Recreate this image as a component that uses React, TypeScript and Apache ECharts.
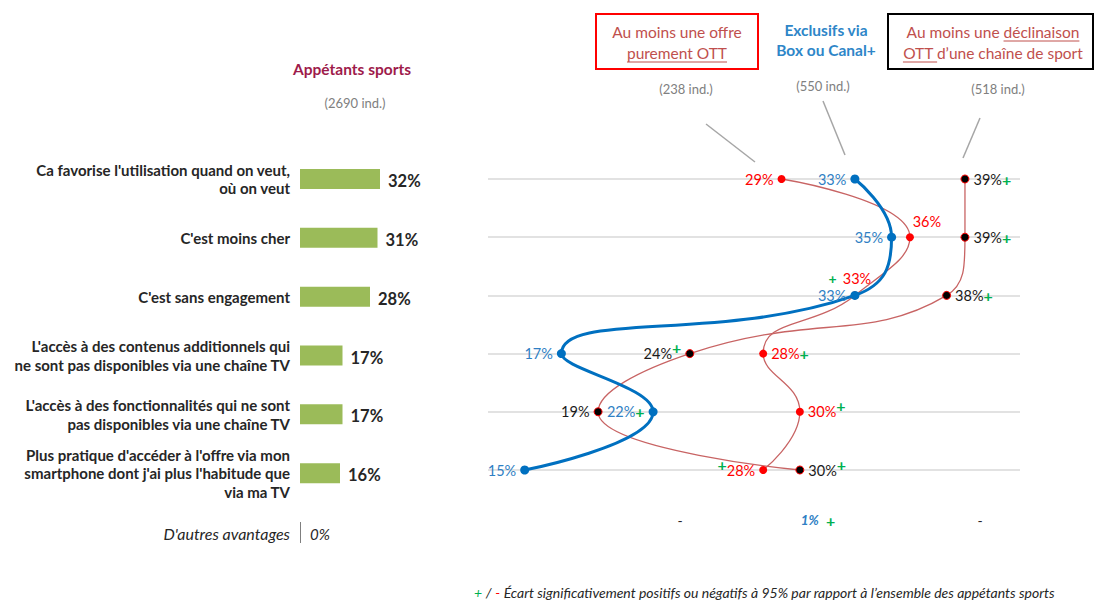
import React, { useEffect, useRef } from "react";
import * as echarts from "echarts";

// ---------- DATA ----------
const categories = [
  "Ca favorise l'utilisation quand on veut,\noù on veut",
  "C'est moins cher",
  "C'est sans engagement",
  "L'accès à des contenus additionnels qui\nne sont pas disponibles via une chaîne TV",
  "L'accès à des fonctionnalités qui ne sont\npas disponibles via une chaîne TV",
  "Plus pratique d'accéder à l'offre via mon\nsmartphone dont j'ai plus l'habitude que\nvia ma TV",
];
const allSports = [32, 31, 28, 17, 17, 16];
const ottPure = [29, 36, 33, 28, 30, 28];
const exclusive = [33, 35, 33, 17, 22, 15];
const ottChannel = [39, 39, 38, 24, 19, 30];
const ottPureSig = ["", "", "+", "+", "+", "+"];
const exclusiveSig = ["", "", "", "", "+", ""];
const ottChannelSig = ["+", "+", "+", "+", "", "+"];

const otherLabel = "D'autres avantages";
const otherAll = "0%";
const otherOttPure = "-";
const otherExclusive = "1%";
const otherExclusiveSig = "+";
const otherOttChannel = "-";

const titleAll = "Appétants sports";
const baseAll = "(2690 ind.)";
const baseOttPure = "(238 ind.)";
const baseExclusive = "(550 ind.)";
const baseOttChannel = "(518 ind.)";
const footnote = "Écart significativement positifs ou négatifs à 95% par rapport à l’ensemble des appétants sports";

// ---------- STYLE ----------
const FONT = "Lato, 'Liberation Sans', sans-serif";
const GREEN = "#00b050";
const RED = "#ff0000";
const BLUE = "#0070c0";
const BLUE_LBL = "#2f7fc4";
const LINE_RED = "#c86464";
const HEAD_RED = "#c0504d";

type Mode = "none" | "after" | "afterSup" | "before" | "beforeSup";
type Lay = { position: string; offset?: number[]; mode: Mode };
const ottPureLayout: Lay[] = [
  { position: "left", mode: "none" },
  { position: "top", offset: [17, 0], mode: "none" },
  { position: "top", offset: [-5, -1], mode: "before" },
  { position: "right", mode: "after" },
  { position: "right", mode: "afterSup" },
  { position: "left", mode: "beforeSup" },
];
const exclusiveLayout: Lay[] = [
  { position: "left", mode: "none" },
  { position: "left", mode: "none" },
  { position: "left", mode: "none" },
  { position: "left", mode: "none" },
  { position: "left", mode: "after" },
  { position: "left", mode: "none" },
];
const ottChannelLayout: Lay[] = [
  { position: "right", mode: "after" },
  { position: "right", mode: "after" },
  { position: "right", mode: "after" },
  { position: "left", mode: "afterSup" },
  { position: "left", mode: "none" },
  { position: "right", mode: "afterSup" },
];

function richFor(color: string) {
  return {
    v: { color, fontSize: 14.5, fontFamily: FONT },
    p: { color: GREEN, fontSize: 16, fontWeight: "bold", fontFamily: FONT },
    pb: { color: GREEN, fontSize: 14, fontWeight: "bold", fontFamily: FONT, padding: [0, 6, 0, 0] },
    ps: { color: GREEN, fontSize: 16, fontWeight: "bold", fontFamily: FONT, padding: [0, 0, 12, 0] },
  };
}

function fmt(v: number, sig: string, mode: Mode) {
  const t = `{v|${v}%}`;
  if (!sig || mode === "none") return t;
  if (mode === "after") return `${t}{p|${sig}}`;
  if (mode === "afterSup") return `${t}{ps|${sig}}`;
  if (mode === "before") return `{pb|${sig}}${t}`;
  return `{ps|${sig}}${t}`;
}

function buildData(vals: number[], sig: string[], layout: Lay[]) {
  return vals.map((v, i) => ({
    value: [v, i],
    label: {
      show: true,
      position: layout[i].position,
      offset: layout[i].offset || [0, 0],
      distance: 4,
      formatter: fmt(v, sig[i], layout[i].mode),
    },
  }));
}

function measure(text: string, font: string) {
  const c = document.createElement("canvas").getContext("2d")!;
  c.font = font;
  return c.measureText(text).width;
}

export default function App() {
  const ref = useRef<HTMLDivElement>(null);
  useEffect(() => {
    document.body.style.margin = "0";
    const chart = echarts.init(ref.current!, null, { renderer: "svg" });

    const HF = 15.5;
    const headFont = `${HF}px ${FONT}`;
    const l1a = "Au moins une ";
    const l1b = "déclinaison";
    const l1W = measure(l1a + l1b, headFont);
    const l1Start = 993 - l1W / 2;
    const l1uS = l1Start + measure(l1a, headFont);
    const l2a = "OTT ";
    const l2b = "d’une chaîne de sport";
    const l2W = measure(l2a + l2b, headFont);
    const l2Start = 993 - l2W / 2;
    const l2uE = l2Start + measure(l2a, headFont);
    const purW = measure("purement OTT", headFont);

    const txt = (text: string, x: number, y: number, o: any = {}) => ({
      type: "text",
      x,
      y,
      style: {
        text,
        fontFamily: FONT,
        fontSize: o.fontSize || 14,
        fontWeight: o.fontWeight || "normal",
        fontStyle: o.fontStyle || "normal",
        fill: o.fill || "#262626",
        align: o.align || "center",
        verticalAlign: "middle",
        textAlign: o.align || "center",
        textVerticalAlign: "middle",
        rich: o.rich,
      },
    });
    const ln = (x1: number, y1: number, x2: number, y2: number, stroke: string, w = 1) => ({
      type: "line",
      shape: { x1, y1, x2, y2 },
      style: { stroke, lineWidth: w },
    });

    const option: any = {
      animation: false,
      backgroundColor: "#ffffff",
      grid: [
        { left: 300, width: 100, top: 149.6, height: 353 },
        { left: 488, right: 74, top: 179, height: 291 },
      ],
      xAxis: [
        { gridIndex: 0, type: "value", min: 0, max: 40, show: false },
        { gridIndex: 1, type: "value", min: 13, max: 42, show: false },
      ],
      yAxis: [
        {
          gridIndex: 0,
          type: "category",
          data: categories,
          inverse: true,
          axisLine: { show: false },
          axisTick: { show: false },
          axisLabel: {
            margin: 10,
            interval: 0,
            color: "#262626",
            fontFamily: FONT,
            fontWeight: "bold",
            fontSize: 15,
            lineHeight: 18.5,
            align: "right",
          },
        },
        {
          gridIndex: 1,
          type: "category",
          data: categories,
          inverse: true,
          boundaryGap: false,
          axisLine: { show: false },
          axisTick: { show: false },
          axisLabel: { show: false },
          splitLine: { show: true, interval: 0, lineStyle: { color: "#d9d9d9", width: 1.5 } },
        },
      ],
      series: [
        {
          type: "bar",
          xAxisIndex: 0,
          yAxisIndex: 0,
          data: allSports,
          barWidth: 20,
          itemStyle: { color: "#9bbb59" },
          label: {
            show: true,
            position: "right",
            distance: 8,
            formatter: "{c}%",
            color: "#262626",
            fontFamily: FONT,
            fontWeight: "bold",
            fontSize: 16.5,
            offset: [0, 2],
          },
        },
        {
          name: "Au moins une offre purement OTT",
          type: "line",
          xAxisIndex: 1,
          yAxisIndex: 1,
          smooth: 0.5,
          data: buildData(ottPure, ottPureSig, ottPureLayout),
          lineStyle: { color: LINE_RED, width: 1.3 },
          symbol: "circle",
          symbolSize: 8,
          itemStyle: { color: RED },
          label: { rich: richFor(RED) },
          z: 3,
        },
        {
          name: "Au moins une déclinaison OTT",
          type: "line",
          xAxisIndex: 1,
          yAxisIndex: 1,
          smooth: 0.5,
          data: buildData(ottChannel, ottChannelSig, ottChannelLayout),
          lineStyle: { color: LINE_RED, width: 1.3 },
          symbol: "circle",
          symbolSize: 8,
          itemStyle: { color: "#000000", borderColor: RED, borderWidth: 1 },
          label: { rich: richFor("#1a1a1a") },
          z: 3,
        },
        {
          name: "Exclusifs via Box ou Canal+",
          type: "line",
          xAxisIndex: 1,
          yAxisIndex: 1,
          smooth: 0.5,
          data: buildData(exclusive, exclusiveSig, exclusiveLayout),
          lineStyle: { color: BLUE, width: 3 },
          symbol: "circle",
          symbolSize: 9,
          itemStyle: { color: BLUE },
          label: { rich: richFor(BLUE_LBL) },
          z: 4,
        },
      ],
      graphic: [
        txt(titleAll, 352, 69, { fontWeight: "bold", fill: "#9e1b4b", fontSize: 15.5 }),
        txt(baseAll, 355, 103, { fill: "#808080", fontSize: 13 }),
        { type: "rect", shape: { x: 596, y: 14, width: 162, height: 55 }, style: { fill: "none", stroke: "#ff0000", lineWidth: 2 } },
        txt("Au moins une offre", 677, 32, { fill: HEAD_RED, fontSize: HF }),
        txt("purement OTT", 677, 53, { fill: HEAD_RED, fontSize: HF }),
        ln(677 - purW / 2, 62, 677 + purW / 2, 62, HEAD_RED),
        txt("Exclusifs via", 826, 30, { fill: "#2e86c8", fontWeight: "bold", fontSize: HF }),
        txt("Box ou Canal+", 826, 50, { fill: "#2e86c8", fontWeight: "bold", fontSize: HF }),
        { type: "rect", shape: { x: 888, y: 14, width: 205, height: 55 }, style: { fill: "none", stroke: "#000000", lineWidth: 2 } },
        txt(l1a + l1b, 993, 32, { fill: HEAD_RED, fontSize: HF }),
        ln(l1uS, 41, l1Start + l1W, 41, HEAD_RED),
        txt(l2a + l2b, 993, 53, { fill: HEAD_RED, fontSize: HF }),
        ln(l2Start, 62, l2uE, 62, HEAD_RED),
        txt(baseOttPure, 686, 89, { fill: "#808080", fontSize: 13 }),
        txt(baseExclusive, 823, 86, { fill: "#808080", fontSize: 13 }),
        txt(baseOttChannel, 998, 89, { fill: "#808080", fontSize: 13 }),
        ln(706, 124, 755, 162, "#a6a6a6", 1.5),
        ln(823, 101, 845, 155, "#a6a6a6", 1.5),
        ln(980, 118, 963, 158, "#a6a6a6", 1.5),
        txt(otherLabel, 290, 533, { align: "right", fontStyle: "italic", fontSize: 16 }),
        ln(300.5, 522, 300.5, 543, "#7f7f7f", 1),
        txt(otherAll, 310, 534, { align: "left", fontStyle: "italic", fontSize: 15 }),
        txt(otherOttPure, 680, 520, { fontSize: 14 }),
        txt(`{b|${otherExclusive}}  {g|${otherExclusiveSig}}`, 818, 520, {
          rich: {
            b: { fontFamily: FONT, fontSize: 13.5, fontStyle: "italic", fontWeight: "bold", fill: BLUE_LBL, color: BLUE_LBL },
            g: { fontFamily: FONT, fontSize: 16, fontWeight: "bold", fill: GREEN, color: GREEN },
          },
        }),
        txt(otherOttChannel, 980, 520, { fontSize: 14 }),
        txt(`{g|+} {d|/} {r|-} {d|${footnote}}`, 474, 592, {
          align: "left",
          rich: {
            g: { fontFamily: FONT, fontSize: 14, fontStyle: "italic", fill: GREEN, color: GREEN },
            r: { fontFamily: FONT, fontSize: 14, fontStyle: "italic", fill: RED, color: RED },
            d: { fontFamily: FONT, fontSize: 14, fontStyle: "italic", fill: "#262626", color: "#262626" },
          },
        }),
      ],
    };
    chart.setOption(option);
    return () => chart.dispose();
  }, []);
  return <div ref={ref} style={{ width: 1094, height: 601 }} />;
}
